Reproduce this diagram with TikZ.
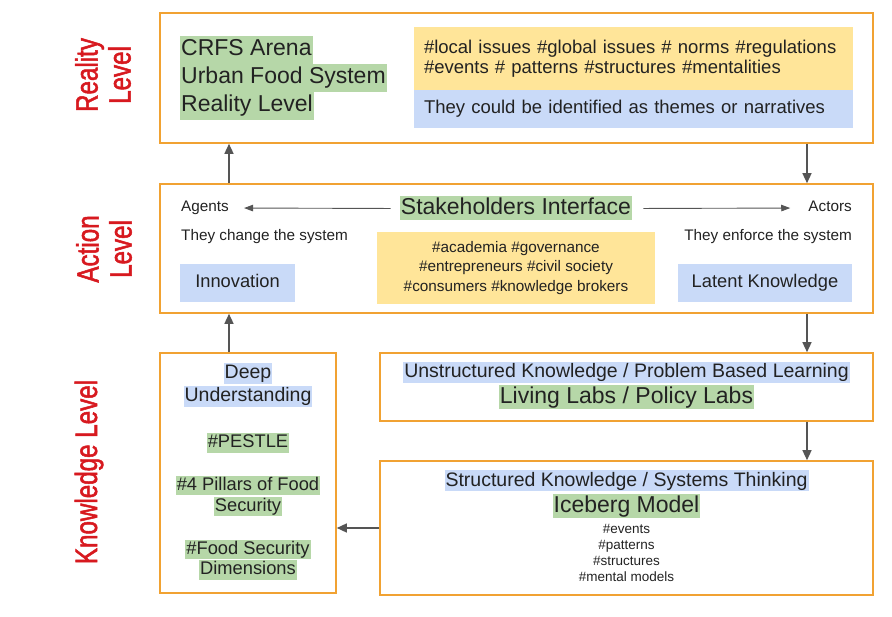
\documentclass[tikz,border=0pt]{standalone}
\usepackage{fontspec}
\setmainfont{Liberation Sans}
\newfontfamily\levelfont[FakeStretch=0.78, FakeBold=1.6]{Liberation Sans}
\usetikzlibrary{arrows.meta}

\definecolor{boxorange}{HTML}{F1A232}
\definecolor{hlgreen}{HTML}{B6D7A8}
\definecolor{hlblue}{HTML}{C9DAF8}
\definecolor{hlyellow}{HTML}{FFE599}
\definecolor{levelred}{HTML}{D7191F}
\definecolor{flowgray}{HTML}{555555}
\definecolor{inkgray}{HTML}{222222}

\tikzset{
  frame/.style={draw=boxorange, line width=1.6pt, inner sep=0pt},
  flow/.style={draw=flowgray, line width=1.4pt, -{Triangle[length=10pt,width=9pt]}},
  thinflow/.style={draw=flowgray, line width=0.9pt, -{Triangle[length=9pt,width=6.5pt]}},
  levellabel/.style={text=levelred, font=\levelfont\fontsize{31}{33}\selectfont, rotate=90, align=center},
  greenmark/.style={fill=hlgreen, inner xsep=1pt, inner ysep=1pt},
  bluemark/.style={fill=hlblue, inner xsep=1pt, inner ysep=1pt},
  headline/.style={text=inkgray, font=\fontsize{23}{28}\selectfont, text height=17pt, text depth=5pt},
  subline/.style={text=inkgray, font=\fontsize{19.5}{23}\selectfont, text height=14.5pt, text depth=4.5pt},
  bodyline/.style={text=inkgray, font=\fontsize{18.3}{21}\selectfont, text height=13.5pt, text depth=4pt},
  noteline/.style={text=inkgray, font=\fontsize{15.3}{19}\selectfont, text height=11pt, text depth=3.5pt, inner xsep=0pt}
}

\begin{document}
\begin{tikzpicture}[x=1pt, y=-1pt]
  \useasboundingbox (0,0) rectangle (892,617);

  % frames
  \node[frame, minimum width=713pt, minimum height=130pt] (reality) at (516.5,78) {};
  \node[frame, minimum width=713pt, minimum height=129pt] (action) at (516.5,248.5) {};
  \node[frame, minimum width=176pt, minimum height=240pt] (deep) at (248,473) {};
  \node[frame, minimum width=493pt, minimum height=68pt] (unstructured) at (626.5,387) {};
  \node[frame, minimum width=493pt, minimum height=134pt] (structured) at (626.5,528) {};

  % level names
  \node[levellabel] (reallabel) at (103,75) {Reality\\Level};
  \node[levellabel] (actlabel) at (104,249) {Action\\Level};
  \node[levellabel] (knowlabel) at (89,472) {Knowledge Level};

  % reality level
  \node[greenmark, headline, anchor=west, minimum height=28pt] (arena) at (180,50) {CRFS Arena};
  \node[greenmark, headline, anchor=west, minimum height=28pt] (urban) at (180,78) {Urban Food System};
  \node[greenmark, headline, anchor=west, minimum height=28pt] (reallevel) at (180,106) {Reality Level};
  \node[fill=hlyellow, minimum width=439pt, minimum height=63pt, text width=419pt, inner xsep=10pt,
        align=left, text=inkgray, font=\fontsize{18.5}{20}\selectfont] (issues) at (633.5,58.5)
        {\#local issues \#global issues \# norms \#regulations\\\#events \# patterns \#structures \#mentalities};
  \node[fill=hlblue, minimum width=439pt, minimum height=38pt, text width=419pt, inner xsep=10pt,
        align=left, bodyline, font=\fontsize{18.5}{21}\selectfont] (narratives) at (633.5,109)
        {They could be identified as themes or narratives};

  % action level
  \node[noteline, anchor=west] (agents) at (181,208) {Agents};
  \node[noteline, anchor=east] (actors) at (852,208) {Actors};
  \node[greenmark, headline] (interface) at (516,208.5) {Stakeholders Interface};
  \draw[thinflow, shorten <=9pt, shorten >=15pt] (interface.west) -- (agents.east);
  \draw[thinflow, shorten <=11pt, shorten >=18pt] (interface.east) -- (actors.west);
  \node[noteline, anchor=west] (changes) at (181,237) {They change the system};
  \node[noteline, anchor=east] (enforces) at (852,237) {They enforce the system};
  \node[fill=hlyellow, minimum width=278pt, minimum height=72pt, align=center, text=inkgray,
        font=\fontsize{15.3}{19.5}\selectfont] (groups) at (516,268)
        {\#academia \#governance\\\#entrepreneurs \#civil society\\\#consumers \#knowledge brokers};
  \node[fill=hlblue, minimum width=115pt, minimum height=38pt, bodyline] (innovation) at (237.5,283) {Innovation};
  \node[fill=hlblue, minimum width=174pt, minimum height=38pt, bodyline] (latent) at (765,283) {Latent Knowledge};

  % knowledge level
  \node[bluemark, subline] (deepword) at (248,373.5) {Deep};
  \node[bluemark, subline] (understanding) at (248,396.5) {Understanding};
  \node[greenmark, bodyline] (pestle) at (248,443) {\#PESTLE};
  \node[greenmark, bodyline] (pillars) at (248,485.5) {\#4 Pillars of Food};
  \node[greenmark, bodyline] (security) at (248,506.5) {Security};
  \node[greenmark, bodyline] (foodsec) at (248,549.5) {\#Food Security};
  \node[greenmark, bodyline] (dimensions) at (248,570) {Dimensions};

  \node[bluemark, subline] (problem) at (626.5,372.5) {Unstructured Knowledge / Problem Based Learning};
  \node[greenmark, headline] (labs) at (626.5,397.5) {Living Labs / Policy Labs};

  \node[bluemark, subline] (systems) at (626.5,481) {Structured Knowledge / Systems Thinking};
  \node[greenmark, headline] (iceberg) at (626.5,506) {Iceberg Model};
  \node[align=center, text=inkgray, font=\fontsize{13.5}{16}\selectfont] (icetags) at (626.5,553)
        {\#events\\\#patterns\\\#structures\\\#mental models};

  % flows between levels
  \coordinate (leftlane) at (229,0);
  \coordinate (rightlane) at (807,0);
  \draw[flow] (action.north -| leftlane) -- (reality.south -| leftlane);
  \draw[flow] (reality.south -| rightlane) -- (action.north -| rightlane);
  \draw[flow] (deep.north -| leftlane) -- (action.south -| leftlane);
  \draw[flow] (action.south -| rightlane) -- (unstructured.north -| rightlane);
  \draw[flow] (unstructured.south -| rightlane) -- (structured.north -| rightlane);
  \draw[flow] (structured.west) -- (structured.west -| deep.east);
\end{tikzpicture}
\end{document}
